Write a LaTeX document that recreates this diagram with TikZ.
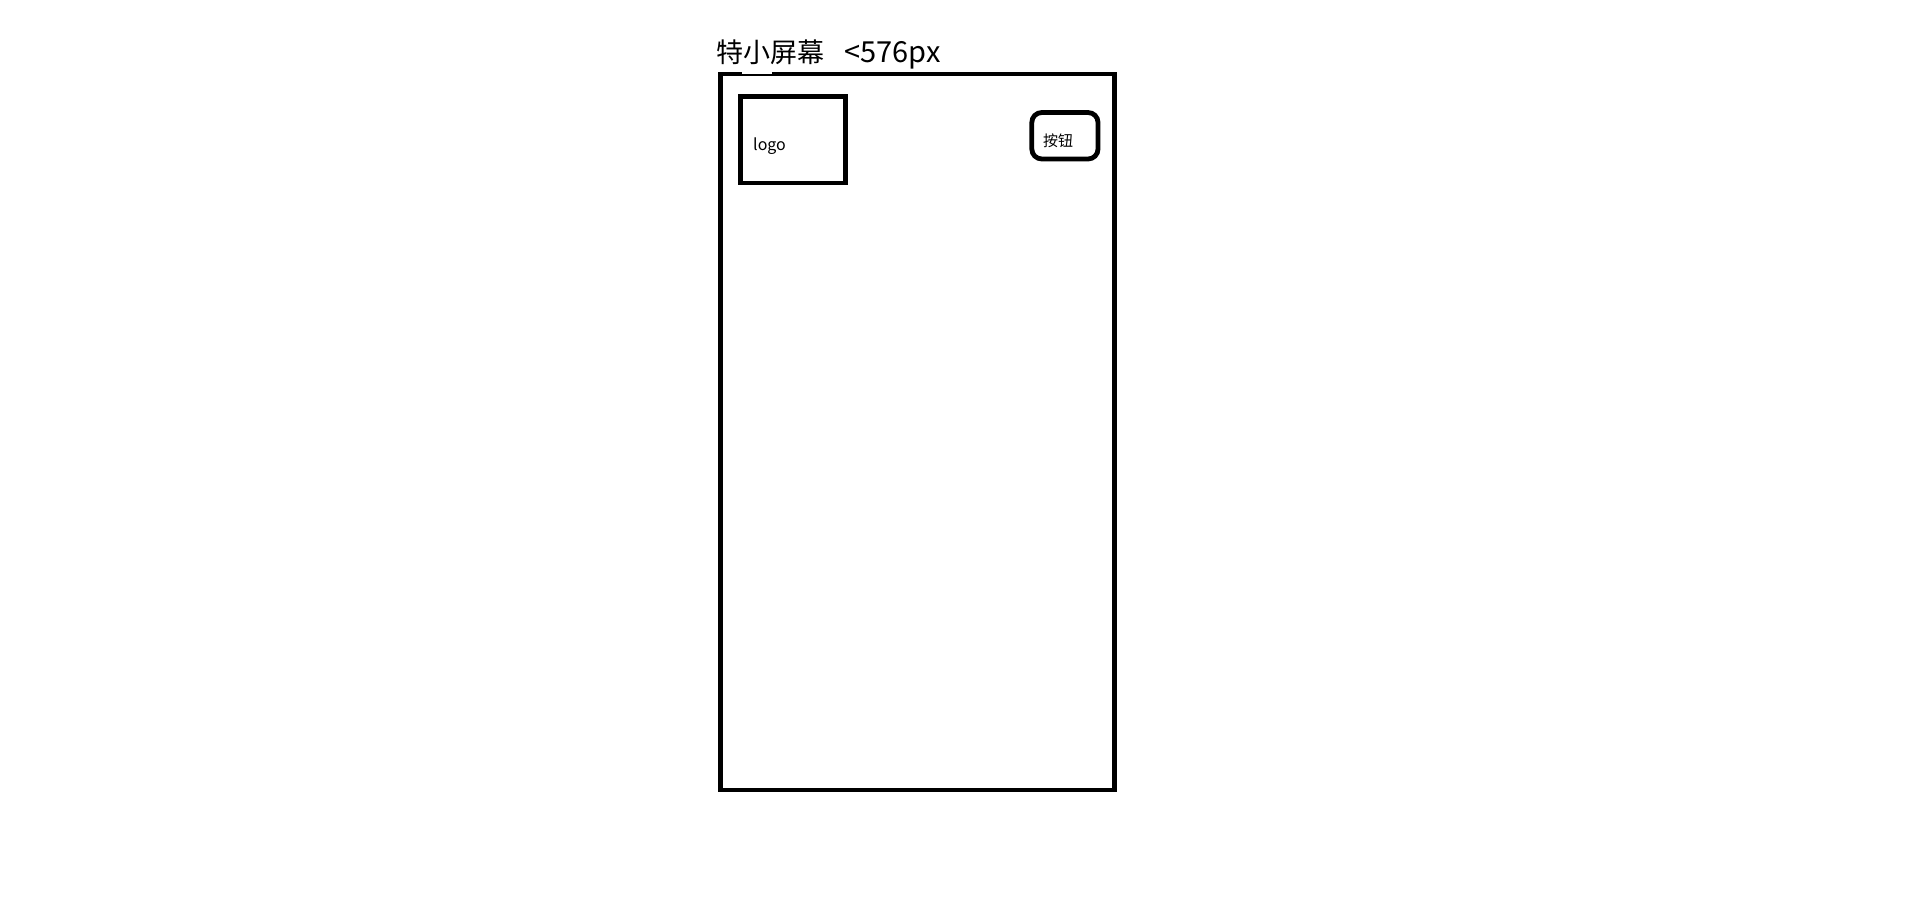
\documentclass[tikz,border=0pt]{standalone}
\usepackage{fontspec}
\setmainfont{Noto Sans CJK SC}
\begin{document}
\begin{tikzpicture}[x=1pt,y=-1pt,
  frame/.style={draw=black,line width=4.8pt},
  lbl/.style={inner sep=0pt,anchor=base west,text=black}]
\useasboundingbox[fill=white] (0,0) rectangle (1914,916);
\draw[frame] (720.5,74) rectangle (1114.5,790);
\fill[white] (742,71) rectangle (772,74.3);
\node[lbl,font=\fontsize{27}{32}\selectfont] (title) at (716,62) {特小屏幕\hspace{20pt}{\fontsize{29}{32}\selectfont <576px}};
\draw[frame,line width=4.5pt] (740.5,96.7) rectangle (845.3,183);
\node[lbl,font=\fontsize{16}{19}\selectfont] (logo) at (753,150) {logo};
\draw[frame,rounded corners=10pt] (1031.8,112.5) rectangle (1098,159);
\node[lbl,font=\fontsize{15}{18}\selectfont] (btn) at (1043,146.5) {按钮};
\end{tikzpicture}
\end{document}
